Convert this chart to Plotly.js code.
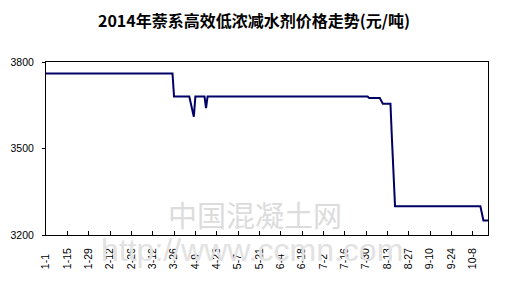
<!DOCTYPE html>
<html>
<head>
<meta charset="utf-8">
<script src="https://cdn.plot.ly/plotly-3.0.1.min.js"></script>
<style>html,body{margin:0;padding:0;background:#fff;}#chart{width:508px;height:286px;}</style>
</head>
<body>
<div id="chart"></div>
<script>
// Price series (元/吨), points where the price changes
var dates = ['2014-01-01','2014-03-25','2014-03-26','2014-04-05','2014-04-08','2014-04-09',
             '2014-04-15','2014-04-16','2014-04-17','2014-07-31','2014-08-01','2014-08-08',
             '2014-08-10','2014-08-15','2014-08-16','2014-08-17','2014-08-18','2014-10-13',
             '2014-10-15','2014-10-18'];
var prices = [3760,3760,3680,3680,3610,3680,
              3680,3640,3680,3680,3675,3675,
              3655,3655,3530,3420,3300,3300,
              3250,3250];

// Tick labels
var tickDates = ['2014-01-01','2014-01-15','2014-01-29','2014-02-12','2014-02-26','2014-03-12',
                 '2014-03-26','2014-04-09','2014-04-23','2014-05-07','2014-05-21','2014-06-04',
                 '2014-06-18','2014-07-02','2014-07-16','2014-07-30','2014-08-13','2014-08-27',
                 '2014-09-10','2014-09-24','2014-10-08'];
var tickLabels = ['1-1','1-15','1-29','2-12','2-26','3-12','3-26','4-9','4-23','5-7','5-21',
                  '6-4','6-18','7-2','7-16','7-30','8-13','8-27','9-10','9-24','10-8'];
var yTicks = [3200, 3500, 3800];

var titleText = '2014年萘系高效低浓减水剂价格走势(元/吨)';
var watermark1 = '中国混凝土网';
var watermark2 = 'http://www.ccmn.com';

// pad short labels so that they start at the same baseline (Excel style)
var padded = tickLabels.map(function(t){ return t.length < 4 ? t + '\u2007' : t; });

var trace = {
  x: dates, y: prices, type: 'scatter', mode: 'lines',
  line: {color: '#000066', width: 2},
  hoverinfo: 'skip'
};

var layout = {
  width: 508, height: 286,
  margin: {l: 46, r: 20, t: 62, b: 51},
  paper_bgcolor: '#ffffff', plot_bgcolor: '#ffffff',
  showlegend: false,
  font: {family: 'Liberation Sans, Arial, sans-serif', size: 10.5, color: '#000'},
  title: {
    text: '<b>' + titleText + '</b>',
    font: {family: 'Noto Sans CJK SC, sans-serif', size: 16, color: '#000'},
    x: 0.5, xanchor: 'center', y: 1 - 21/286, yanchor: 'middle', yref: 'container'
  },
  xaxis: {
    type: 'date',
    range: ['2014-01-01', '2014-10-18'],
    tickmode: 'array', tickvals: tickDates, ticktext: padded,
    tickangle: -90,
    ticks: 'inside', ticklen: 4, tickcolor: '#000', tickwidth: 1,
    showline: true, linecolor: '#000', linewidth: 1, mirror: true,
    showgrid: false, zeroline: false,
    ticklabelstandoff: 8,
    tickfont: {family: 'Liberation Sans, Arial, sans-serif', size: 10.5, color: '#000'}
  },
  yaxis: {
    range: [3200, 3800],
    tickmode: 'array', tickvals: yTicks, ticktext: yTicks.map(String),
    ticks: 'outside', ticklen: 3, tickcolor: '#000', tickwidth: 1,
    showline: true, linecolor: '#000', linewidth: 1, mirror: true,
    showgrid: false, zeroline: false,
    ticklabelstandoff: 6,
    tickfont: {family: 'Liberation Sans, Arial, sans-serif', size: 10.5, color: '#000'}
  },
  annotations: [
    {text: watermark1, xref: 'paper', yref: 'paper', x: (255-46)/442, y: (235-214)/173,
     xanchor: 'center', yanchor: 'middle', showarrow: false,
     font: {family: 'Noto Sans CJK SC, sans-serif', size: 29, color: '#dcdcdc'}},
    {text: watermark2, xref: 'paper', yref: 'paper', x: (252-46)/442, y: (235-250)/173,
     xanchor: 'center', yanchor: 'middle', showarrow: false,
     font: {family: 'Liberation Sans, Arial, sans-serif', size: 32, color: '#e2e2e2'}}
  ]
};

Plotly.newPlot('chart', [trace], layout, {displayModeBar: false, staticPlot: true});
</script>
</body>
</html>
